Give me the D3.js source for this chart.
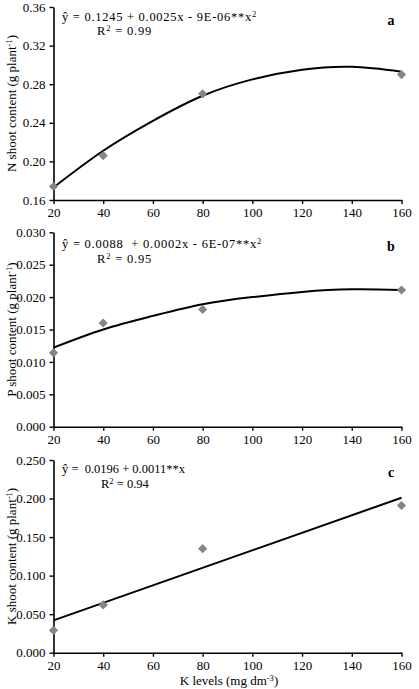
<!DOCTYPE html>
<html>
<head>
<meta charset="utf-8">
<script src="https://cdn.jsdelivr.net/npm/d3@7/dist/d3.min.js"></script>
<style>
  html, body { margin: 0; padding: 0; background: #fff; }
  svg { display: block; }
  text { font-family: "Liberation Serif", "Times New Roman", serif; fill: #000; }
</style>
</head>
<body>
<svg id="chart" width="419" height="689"></svg>
<script>
// ---- data ----
const kLevels = [20, 40, 80, 160];
const nValues = [0.174, 0.206, 0.270, 0.290];
const pValues = [0.0114, 0.0160, 0.0181, 0.0211];
const kValues = [0.029, 0.062, 0.135, 0.191];

const fitX = [20, 40, 60, 80, 100, 120, 140, 160];
const nFit = [0.173, 0.211, 0.242, 0.268, 0.285, 0.295, 0.298, 0.293];
const pFit = [0.0122, 0.0150, 0.0171, 0.0189, 0.0200, 0.0208, 0.0212, 0.0211];
const kFitX = [20, 160];
const kFit = [0.042, 0.201];

const xTicks = [20, 40, 60, 80, 100, 120, 140, 160];
const nTicks = [0.16, 0.20, 0.24, 0.28, 0.32, 0.36];
const pTicks = [0.000, 0.005, 0.010, 0.015, 0.020, 0.025, 0.030];
const kTicks = [0.000, 0.050, 0.100, 0.150, 0.200, 0.250];

const panelLetters = ["a", "b", "c"];
const yTitles = ["N shoot content (g plant", "P shoot content (g plant", "K shoot content (g plant"];
const equations = [
  ["ŷ = 0.1245 + 0.0025x - 9E-06**x", "2"],
  ["ŷ = 0.0088  + 0.0002x - 6E-07**x", "2"],
  ["ŷ =  0.0196 + 0.0011**x", ""]
];
const r2Values = ["0.99", "0.95", "0.94"];
const xTitle = "K levels (mg dm";

// ---- layout ----
const svg = d3.select("#chart");
const x = d3.scaleLinear().domain([20, 160]).range([53.5, 401.5]);

const panels = [
  { pts: nValues, fx: fitX, fy: nFit, ticks: nTicks, fmt: d3.format(".2f"), top: 7, bottom: 200, eqY: 21, eqLs: 0.72, r2Ls: 0.8, r2Y: 35, r2X: 97, letterY: 25 },
  { pts: pValues, fx: fitX, fy: pFit, ticks: pTicks, fmt: d3.format(".3f"), top: 232.3, bottom: 426.7, eqY: 247.5, eqLs: 0.76, r2Ls: 0.8, r2Y: 262.5, r2X: 97, letterY: 251 },
  { pts: kValues, fx: kFitX, fy: kFit, ticks: kTicks, fmt: d3.format(".3f"), top: 460, bottom: 652.7, eqY: 473, eqLs: 0, r2Ls: 0, r2Y: 488, r2X: 101, letterY: 477 }
];

const diamond = d3.symbol().type(d3.symbolSquare).size(42);

panels.forEach((p, i) => {
  const dom = [p.ticks[0], p.ticks[p.ticks.length - 1]];
  const y = d3.scaleLinear().domain(dom).range([p.bottom, p.top]);
  const g = svg.append("g");

  // x axis
  const xa = g.append("g").attr("transform", `translate(0,${p.bottom})`)
    .call(d3.axisBottom(x).tickValues(xTicks).tickSize(4).tickPadding(4).tickSizeOuter(0));
  xa.select(".domain").attr("stroke", "#000").attr("stroke-width", 1.6);
  xa.selectAll(".tick line").attr("stroke", "#000").attr("stroke-width", 1.4);
  xa.selectAll("text").style("font-size", "13px").style("font-family", "Liberation Serif, serif");

  // y axis
  const ya = g.append("g").attr("transform", `translate(${x(20)},0)`)
    .call(d3.axisLeft(y).tickValues(p.ticks).tickFormat(p.fmt).tickSize(4).tickPadding(4).tickSizeOuter(0));
  ya.select(".domain").attr("stroke", "#000").attr("stroke-width", 1.6);
  ya.selectAll(".tick line").attr("stroke", "#000").attr("stroke-width", 1.4);
  ya.selectAll("text").style("font-size", "13px").style("font-family", "Liberation Serif, serif");

  // fit curve
  const line = d3.line()
    .x((d, j) => x(p.fx[j]))
    .y(d => y(d))
    .curve(d3.curveNatural);
  g.append("path").datum(p.fy).attr("d", line)
    .attr("fill", "none").attr("stroke", "#000").attr("stroke-width", 2);

  // points
  g.selectAll(".pt").data(p.pts).enter().append("path")
    .attr("d", diamond)
    .attr("transform", (d, j) => `translate(${x(kLevels[j])},${y(d)}) rotate(45)`)
    .attr("fill", "#858585");

  // equation
  const eq = g.append("text").attr("x", 62).attr("y", p.eqY).style("font-size", "12.5px")
    .style("white-space", "pre");
  eq.append("tspan").style("letter-spacing", p.eqLs + "px").text(equations[i][0]);
  if (equations[i][1]) {
    eq.append("tspan").attr("dy", -4).style("font-size", "8.5px").text(equations[i][1]);
  }
  const r2 = g.append("text").attr("x", p.r2X).attr("y", p.r2Y).style("font-size", "12.5px")
    .style("letter-spacing", p.r2Ls + "px");
  r2.append("tspan").text("R");
  r2.append("tspan").attr("dy", -4).style("font-size", "8.5px").text("2");
  r2.append("tspan").attr("dy", 4).text(" = " + r2Values[i]);

  // panel letter
  g.append("text").attr("x", 391).attr("y", p.letterY).attr("text-anchor", "middle")
    .style("font-size", "14px").style("font-weight", "bold").text(panelLetters[i]);

  // y title
  const cy = (p.top + p.bottom) / 2;
  const yt = g.append("text").attr("transform", `translate(16,${cy}) rotate(-90)`)
    .attr("text-anchor", "middle").style("font-size", "13px");
  yt.append("tspan").text(yTitles[i]);
  yt.append("tspan").attr("dy", -4).style("font-size", "8.5px").text("-1");
  yt.append("tspan").attr("dy", 4).text(")");
});

// x title
const xt = svg.append("text").attr("x", 229).attr("y", 685).attr("text-anchor", "middle").style("font-size", "13px");
xt.append("tspan").text(xTitle);
xt.append("tspan").attr("dy", -4).style("font-size", "8.5px").text("-3");
xt.append("tspan").attr("dy", 4).text(")");
</script>
</body>
</html>
